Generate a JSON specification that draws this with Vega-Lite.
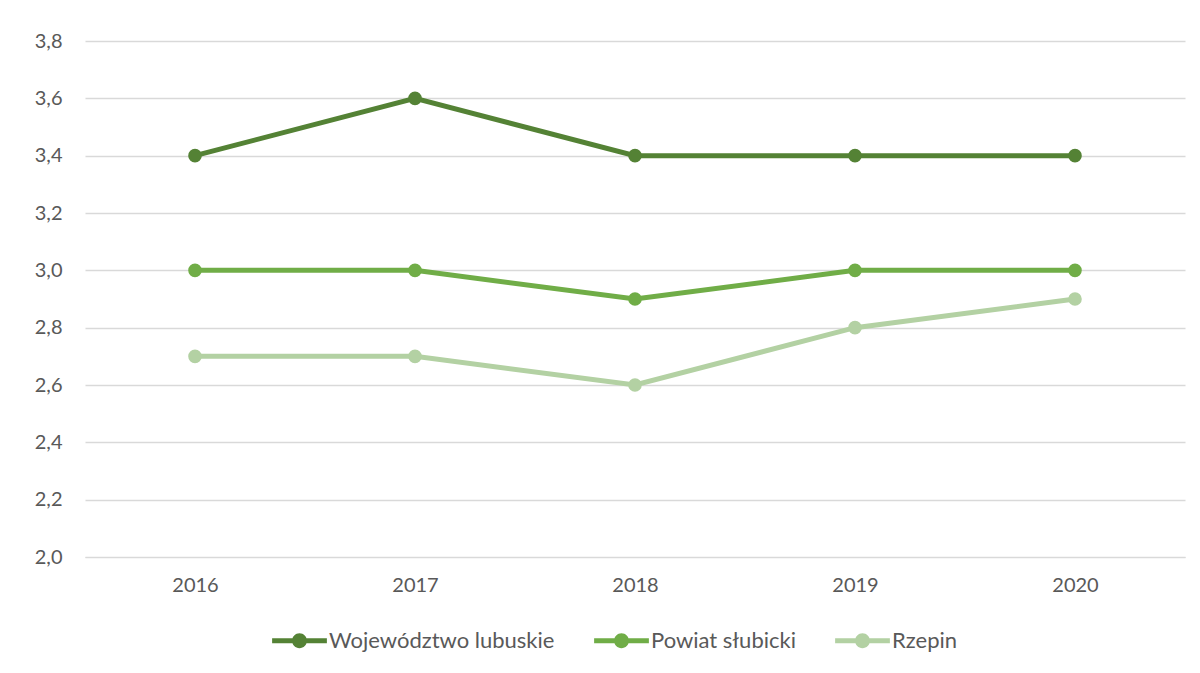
{
  "$schema": "https://vega.github.io/schema/vega-lite/v6.json",
  "width": 1100,
  "height": 516,
  "autosize": {"type": "none"},
  "padding": {"left": 85, "top": 41, "right": 15, "bottom": 116},
  "background": "white",
  "config": {
    "locale": {"number": {"decimal": ",", "thousands": " ", "grouping": [3], "currency": ["", " zł"]}},
    "font": "Lato",
    "view": {"stroke": null},
    "axis": {"labelFont": "Lato", "labelColor": "#595959", "labelFontSize": 20}
  },
  "data": {
    "values": [
      {"rok": "2016", "seria": "Województwo lubuskie", "v": 3.4},
      {"rok": "2017", "seria": "Województwo lubuskie", "v": 3.6},
      {"rok": "2018", "seria": "Województwo lubuskie", "v": 3.4},
      {"rok": "2019", "seria": "Województwo lubuskie", "v": 3.4},
      {"rok": "2020", "seria": "Województwo lubuskie", "v": 3.4},
      {"rok": "2016", "seria": "Powiat słubicki", "v": 3.0},
      {"rok": "2017", "seria": "Powiat słubicki", "v": 3.0},
      {"rok": "2018", "seria": "Powiat słubicki", "v": 2.9},
      {"rok": "2019", "seria": "Powiat słubicki", "v": 3.0},
      {"rok": "2020", "seria": "Powiat słubicki", "v": 3.0},
      {"rok": "2016", "seria": "Rzepin", "v": 2.7},
      {"rok": "2017", "seria": "Rzepin", "v": 2.7},
      {"rok": "2018", "seria": "Rzepin", "v": 2.6},
      {"rok": "2019", "seria": "Rzepin", "v": 2.8},
      {"rok": "2020", "seria": "Rzepin", "v": 2.9}
    ]
  },
  "encoding": {
    "x": {
      "field": "rok", "type": "ordinal",
      "scale": {"type": "point", "padding": 0.5},
      "axis": {"title": null, "labelAngle": 0, "ticks": false, "domain": true, "domainColor": "#d9d9d9", "labelPadding": 18, "grid": false}
    },
    "y": {
      "field": "v", "type": "quantitative",
      "scale": {"domain": [2.0, 3.8], "nice": false, "zero": false},
      "axis": {"title": null, "values": [2.0, 2.2, 2.4, 2.6, 2.8, 3.0, 3.2, 3.4, 3.6, 3.8], "format": ".1f", "ticks": false, "domain": false, "grid": true, "gridColor": "#d9d9d9", "gridWidth": 1.3, "labelPadding": 23}
    },
    "color": {
      "field": "seria", "type": "nominal",
      "scale": {"domain": ["Województwo lubuskie", "Powiat słubicki", "Rzepin"], "range": ["#548235", "#70AD47", "#B3D1A3"]},
      "legend": {
        "title": null,
        "orient": "none",
        "legendX": 187,
        "legendY": 572,
        "direction": "horizontal",
        "symbolType": "M-1,-0.09L1,-0.09L1,0.09L-1,0.09Z M-0.27,0 A0.27,0.27 0 1,1 0.27,0 A0.27,0.27 0 1,1 -0.27,0 Z",
        "symbolSize": 3000,
        "symbolStrokeWidth": 0,
        "symbolOpacity": 1,
        "labelFont": "Lato",
        "labelFontSize": 22,
        "labelColor": "#595959",
        "labelOffset": 2,
        "columnPadding": 39,
        "labelLimit": 400
      }
    }
  },
  "layer": [
    {
      "mark": {"type": "line", "strokeWidth": 5}
    },
    {
      "mark": {"type": "point", "filled": true, "size": 185, "opacity": 1}
    }
  ]
}
